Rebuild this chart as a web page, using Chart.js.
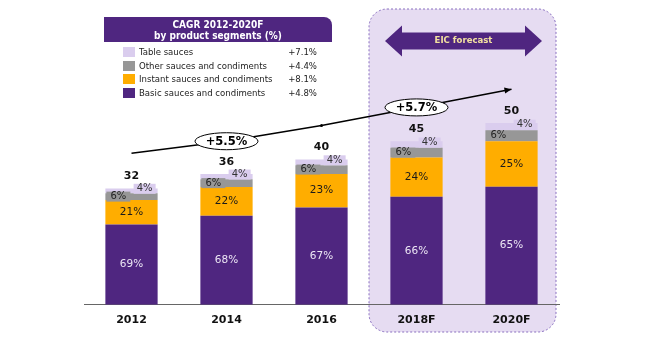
<!DOCTYPE html>
<html>
<head>
<meta charset="utf-8">
<script src="https://cdn.jsdelivr.net/npm/chart.js@4.4.1/dist/chart.umd.min.js"></script>
<style>
  html, body { margin: 0; padding: 0; background: #fff; }
  #wrap { position: relative; width: 658px; height: 340px; }
  #legend {
    position: absolute; left: 104px; top: 17px; width: 228px;
    font-family: 'DejaVu Sans Condensed', 'DejaVu Sans', sans-serif; color: #222;
  }
  #legend .head {
    height: 25px; background: #4f2680; color: #fff; font-weight: bold;
    font-size: 10px; line-height: 11px; text-align: center; padding-top: 2px;
    box-sizing: border-box; border-top-right-radius: 8px;
  }
  #legend .row { position: absolute; left: 0; width: 228px; height: 12px; font-size: 9.5px; line-height: 12px; }
  #legend .sw { position: absolute; left: 19px; top: 1px; width: 12px; height: 10px; }
  #legend .name { position: absolute; left: 35px; top: 0; }
  #legend .val { position: absolute; right: 15px; top: 0; }
</style>
</head>
<body>
<div id="wrap">
  <canvas id="chart" width="658" height="340"></canvas>
  <div id="legend">
    <div class="head">CAGR 2012-2020F<br>by product segments (%)</div>
  </div>
</div>
<script>
const years = [`2012`, `2014`, `2016`, `2018F`, `2020F`];
const totals = [32, 36, 40, 45, 50];

const basicPct = [69, 68, 67, 66, 65];
const instantPct = [21, 22, 23, 24, 25];
const otherPct = [6, 6, 6, 6, 6];
const tablePct = [4, 4, 4, 4, 4];

const segmentNames = [`Basic sauces and condiments`, `Instant sauces and condiments`, `Other sauces and condiments`, `Table sauces`];
const segmentCagr = [`+4.8%`, `+8.1%`, `+4.4%`, `+7.1%`];
const segmentColors = [`#4f2680`, `#ffad00`, `#979797`, `#dacdee`];

// CAGR trend arrow, one point per year
const trendValues = [41.7, 45, 49.3, 54.3, 59.3];
const trendLabels = [``, `+5.5%`, ``, `+5.7%`, ``];

const forecastFrom = 3;
const font = `'DejaVu Sans', sans-serif`;
const fontCond = `'DejaVu Sans Condensed', 'DejaVu Sans', sans-serif`;

const pcts = [basicPct, instantPct, otherPct, tablePct];
const toValues = (pct) => pct.map((p, i) => totals[i] * p / 100);

// legend rows, top to bottom is reverse of stacking
const legend = document.getElementById(`legend`);
[3, 2, 1, 0].forEach((k, row) => {
  const el = document.createElement(`div`);
  el.className = `row`;
  el.style.top = `${29 + row * 13.7}px`;
  el.innerHTML = `<div class="sw" style="background:${segmentColors[k]}"></div>` +
    `<div class="name">${segmentNames[k]}</div><div class="val">${segmentCagr[k]}</div>`;
  legend.appendChild(el);
});

const roundRect = (ctx, x, y, w, h, r) => {
  ctx.beginPath();
  ctx.moveTo(x + r, y);
  ctx.lineTo(x + w - r, y);
  ctx.arcTo(x + w, y, x + w, y + r, r);
  ctx.lineTo(x + w, y + h - r);
  ctx.arcTo(x + w, y + h, x + w - r, y + h, r);
  ctx.lineTo(x + r, y + h);
  ctx.arcTo(x, y + h, x, y + h - r, r);
  ctx.lineTo(x, y + r);
  ctx.arcTo(x, y, x + r, y, r);
  ctx.closePath();
};

const forecastPlugin = {
  id: `forecast`,
  beforeDraw(chart) {
    const { ctx, scales: { x }, chartArea } = chart;
    const left = (x.getPixelForValue(forecastFrom - 1) + x.getPixelForValue(forecastFrom)) / 2;
    const right = chartArea.right - 3;
    const top = 9;
    const bottom = 332;
    ctx.save();
    roundRect(ctx, left, top, right - left, bottom - top, 18);
    ctx.fillStyle = `#e6dcf2`;
    ctx.fill();
    ctx.setLineDash([2, 2]);
    ctx.strokeStyle = `#8a70c0`;
    ctx.lineWidth = 1;
    ctx.stroke();
    ctx.setLineDash([]);

    // double headed arrow
    const ax1 = left + 16, ax2 = right - 14, ay = 41;
    const head = 17, hh = 15.5, sh = 8.5;
    ctx.beginPath();
    ctx.moveTo(ax1, ay);
    ctx.lineTo(ax1 + head, ay - hh);
    ctx.lineTo(ax1 + head, ay - sh);
    ctx.lineTo(ax2 - head, ay - sh);
    ctx.lineTo(ax2 - head, ay - hh);
    ctx.lineTo(ax2, ay);
    ctx.lineTo(ax2 - head, ay + hh);
    ctx.lineTo(ax2 - head, ay + sh);
    ctx.lineTo(ax1 + head, ay + sh);
    ctx.lineTo(ax1 + head, ay + hh);
    ctx.closePath();
    ctx.fillStyle = `#4f2680`;
    ctx.fill();
    ctx.fillStyle = `#f3e1a0`;
    ctx.font = `bold 9.5px ${fontCond}`;
    ctx.textAlign = `center`;
    ctx.textBaseline = `middle`;
    ctx.fillText(`EIC forecast`, (ax1 + ax2) / 2, ay);
    ctx.restore();
  },
};

const labelPlugin = {
  id: `labels`,
  afterDatasetsDraw(chart) {
    const { ctx } = chart;
    ctx.save();
    ctx.textAlign = `center`;
    ctx.textBaseline = `middle`;

    const metas = [0, 1, 2, 3].map((k) => chart.getDatasetMeta(k));
    years.forEach((year, i) => {
      const basic = metas[0].data[i];
      const instant = metas[1].data[i];
      const other = metas[2].data[i];
      const table = metas[3].data[i];
      const w = basic.width;
      const bl = basic.x - w / 2;
      const br = basic.x + w / 2;

      ctx.font = `10.5px ${font}`;
      ctx.fillStyle = `#ece6f4`;
      ctx.fillText(`${basicPct[i]}%`, basic.x, (basic.y + basic.base) / 2);
      ctx.fillStyle = `#1a1a1a`;
      ctx.fillText(`${instantPct[i]}%`, instant.x, (instant.y + instant.base) / 2);

      ctx.font = `10px ${font}`;
      const oy = (other.y + other.base) / 2;
      ctx.fillStyle = segmentColors[2];
      ctx.fillRect(bl + 1, oy - 5, 24, 10);
      ctx.fillStyle = `#222`;
      ctx.fillText(`${otherPct[i]}%`, bl + 13, oy);

      const ty = (table.y + table.base) / 2 - 2;
      ctx.fillStyle = segmentColors[3];
      ctx.fillRect(br - 24, ty - 5, 22, 10);
      ctx.fillStyle = `#333`;
      ctx.fillText(`${tablePct[i]}%`, br - 13, ty);

      ctx.font = `bold 11px ${font}`;
      ctx.fillStyle = `#111`;
      ctx.fillText(`${totals[i]}`, table.x, table.y - 12);
    });

    // trend arrow head and CAGR ellipses
    const pts = chart.getDatasetMeta(4).data;
    const a = pts[pts.length - 2], b = pts[pts.length - 1];
    const ang = Math.atan2(b.y - a.y, b.x - a.x);
    ctx.fillStyle = `#000`;
    ctx.beginPath();
    ctx.moveTo(b.x, b.y);
    ctx.lineTo(b.x - 7 * Math.cos(ang) + 3 * Math.sin(ang), b.y - 7 * Math.sin(ang) - 3 * Math.cos(ang));
    ctx.lineTo(b.x - 7 * Math.cos(ang) - 3 * Math.sin(ang), b.y - 7 * Math.sin(ang) + 3 * Math.cos(ang));
    ctx.closePath();
    ctx.fill();

    trendLabels.forEach((txt, i) => {
      if (!txt) return;
      const p = pts[i];
      ctx.beginPath();
      ctx.ellipse(p.x, p.y, 31.5, 8.5, 0, 0, Math.PI * 2);
      ctx.fillStyle = `#fff`;
      ctx.fill();
      ctx.strokeStyle = `#000`;
      ctx.lineWidth = 1;
      ctx.stroke();
      ctx.fillStyle = `#000`;
      ctx.font = `bold 11.5px ${font}`;
      ctx.fillText(txt, p.x, p.y + 0.5);
    });
    ctx.restore();
  },
};

const barSet = (k) => ({
  type: `bar`,
  label: segmentNames[k],
  data: toValues(pcts[k]),
  backgroundColor: segmentColors[k],
  stack: `share`,
  barPercentage: 0.55,
  categoryPercentage: 1,
  order: 2,
});

new Chart(document.getElementById(`chart`).getContext(`2d`), {
  data: {
    labels: years,
    datasets: [
      barSet(0),
      barSet(1),
      barSet(2),
      barSet(3),
      {
        type: `line`,
        label: `CAGR`,
        data: trendValues,
        stack: `trend`,
        borderColor: `#000`,
        borderWidth: 1.5,
        pointRadius: [0, 0, 1.5, 0, 0],
        pointBackgroundColor: `#000`,
        pointBorderWidth: 0,
        tension: 0,
        fill: false,
        order: 1,
      },
    ],
  },
  options: {
    responsive: false,
    animation: false,
    layout: { padding: { left: 84, right: 99, top: 14, bottom: 4 } },
    plugins: {
      legend: { display: false },
      tooltip: { enabled: false },
    },
    scales: {
      x: {
        stacked: true,
        grid: { display: false, drawTicks: false },
        border: { display: true, color: `#666`, width: 1 },
        ticks: {
          color: `#111`,
          padding: 9,
          font: { family: font, size: 11, weight: `bold` },
        },
      },
      y: {
        stacked: true,
        display: false,
        min: 0,
        max: 80,
      },
    },
  },
  plugins: [forecastPlugin, labelPlugin],
});
</script>
</body>
</html>
